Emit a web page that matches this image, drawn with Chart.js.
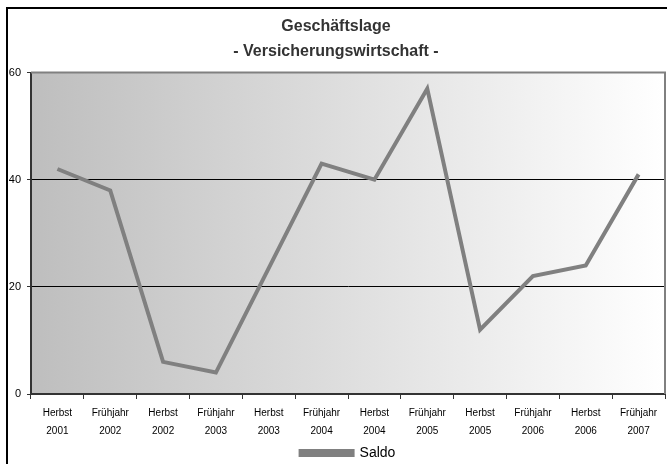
<!DOCTYPE html>
<html>
<head>
<meta charset="utf-8">
<script src="https://cdn.jsdelivr.net/npm/chart.js@4/dist/chart.umd.min.js"></script>
<style>
  html, body { margin: 0; padding: 0; background: #ffffff; }
  #wrap { width: 667px; height: 464px; position: relative; }
</style>
</head>
<body>
<div id="wrap"><canvas id="c" width="667" height="464"></canvas></div>
<script>
const titleLines = ['Geschäftslage', '- Versicherungswirtschaft -'];
const seasons = ['Herbst', 'Frühjahr', 'Herbst', 'Frühjahr', 'Herbst', 'Frühjahr', 'Herbst', 'Frühjahr', 'Herbst', 'Frühjahr', 'Herbst', 'Frühjahr'];
const years = ['2001', '2002', '2002', '2003', '2003', '2004', '2004', '2005', '2005', '2006', '2006', '2007'];
const saldo = [42, 38, 6, 4, 23.5, 43, 40, 57, 12, 22, 24, 41];
const yTicks = [0, 20, 40, 60];
const seriesName = 'Saldo';

const categories = seasons.map((s, i) => [s, years[i]]);
const FONT = "'Liberation Sans', Arial, sans-serif";

const framePlugin = {
  id: 'frame',
  beforeDraw(chart) {
    const { ctx, chartArea: a } = chart;
    ctx.save();
    const g = ctx.createLinearGradient(a.left, 0, a.right, 0);
    g.addColorStop(0, 'rgb(190,190,190)');
    g.addColorStop(1, 'rgb(255,255,255)');
    ctx.fillStyle = g;
    ctx.fillRect(a.left, a.top, a.right - a.left, a.bottom - a.top);
    ctx.restore();
  },
  afterDraw(chart) {
    const { ctx, chartArea: a } = chart;
    ctx.save();
    ctx.strokeStyle = '#808080';
    ctx.lineWidth = 2;
    ctx.beginPath();
    ctx.moveTo(a.left, a.top);
    ctx.lineTo(a.right, a.top);
    ctx.lineTo(a.right, a.bottom);
    ctx.stroke();
    ctx.strokeStyle = '#000000';
    ctx.lineWidth = 2;
    ctx.strokeRect(7, 8, chart.width + 20, chart.height + 20);
    ctx.restore();
  }
};

new Chart(document.getElementById('c'), {
  type: 'line',
  data: {
    labels: categories,
    datasets: [{
      label: seriesName,
      data: saldo,
      borderColor: '#808080',
      backgroundColor: '#808080',
      borderWidth: 4,
      pointRadius: 0,
      pointHoverRadius: 0,
      tension: 0,
      fill: false
    }]
  },
  options: {
    responsive: false,
    animation: false,
    devicePixelRatio: 1,
    layout: { padding: { left: 7, right: 2, top: 0, bottom: -6 } },
    plugins: {
      title: {
        display: true,
        text: titleLines,
        color: '#333333',
        font: { family: FONT, size: 16, weight: 'bold', lineHeight: 1.55 },
        padding: { top: 14, bottom: 9 }
      },
      legend: {
        display: true,
        position: 'bottom',
        fullSize: false,
        labels: {
          color: '#000000',
          font: { family: FONT, size: 14 },
          boxWidth: 52,
          boxHeight: 4,
          padding: 0
        }
      },
      tooltip: { enabled: false }
    },
    scales: {
      x: {
        offset: true,
        grid: {
          offset: true,
          drawOnChartArea: false,
          drawTicks: true,
          tickLength: 5,
          tickColor: '#333333',
          tickWidth: 1
        },
        border: { display: true, color: '#333333', width: 2 },
        ticks: {
          color: '#000000',
          font: { family: FONT, size: 10, lineHeight: 1.8 },
          padding: 5,
          maxRotation: 0,
          autoSkip: false
        },
        afterFit(s) { s.height = 52; }
      },
      y: {
        min: 0,
        max: 60,
        afterBuildTicks(s) { s.ticks = yTicks.map(v => ({ value: v })); },
        grid: {
          color: '#000000',
          lineWidth: 1,
          drawTicks: true,
          tickLength: 4,
          tickColor: '#333333'
        },
        border: { display: true, color: '#333333', width: 2 },
        ticks: {
          color: '#000000',
          font: { family: FONT, size: 11 },
          padding: 6
        },
        afterFit(s) { s.width = 24; }
      }
    }
  },
  plugins: [framePlugin]
});
</script>
</body>
</html>
